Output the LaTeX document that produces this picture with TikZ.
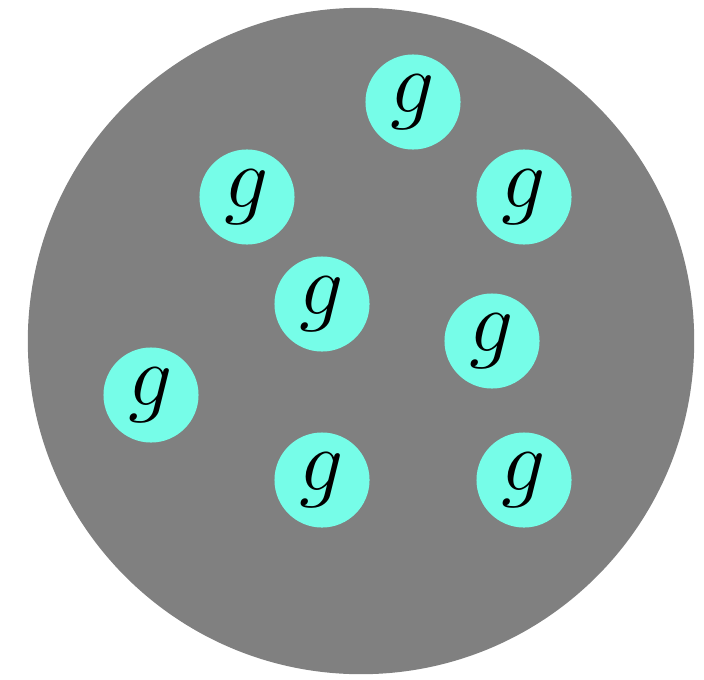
\documentclass[tikz,border=0pt]{standalone}
\usepackage{xcolor}
\definecolor{bluongray}{RGB}{128,128,128}
\definecolor{gluoncyan}{RGB}{118,253,232}
\usepackage{tikz}

\begin{document}
\begin{tikzpicture}[x=0.01cm, y=-0.01cm,
    blob/.style={circle, fill=bluongray, minimum size=6.66cm, inner sep=0pt},
    gluon/.style={circle, fill=gluoncyan, minimum size=0.95cm, inner sep=0pt,
                  font=\fontsize{26}{28}\selectfont},
  ]
    \useasboundingbox (0,0) rectangle (704,679);
    \node[blob] (plasma) at (361,341) {};

    \node[gluon] (g1) at (413,102) {$g$};
    \node[gluon] (g2) at (247,197) {$g$};
    \node[gluon] (g3) at (524,197) {$g$};
    \node[gluon] (g4) at (322,304) {$g$};
    \node[gluon] (g5) at (492,341) {$g$};
    \node[gluon] (g6) at (151,395) {$g$};
    \node[gluon] (g7) at (322,480) {$g$};
    \node[gluon] (g8) at (524,480) {$g$};
  \end{tikzpicture}
\end{document}
